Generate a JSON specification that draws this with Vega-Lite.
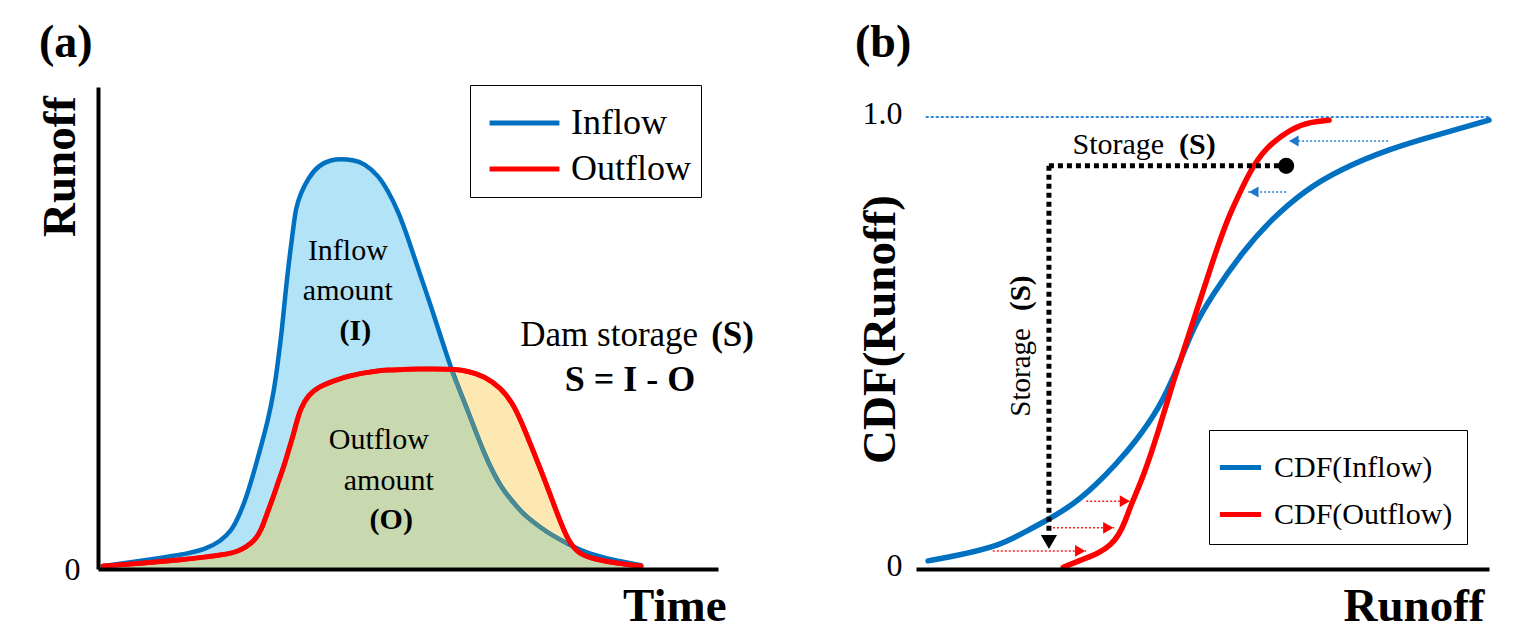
{
  "$schema": "https://vega.github.io/schema/vega-lite/v6.json",
  "background": "white",
  "padding": {"left": 35, "top": 19, "right": 5, "bottom": 5},
  "spacing": 101,
  "config": {
    "view": {"stroke": null},
    "font": "Liberation Serif",
    "axis": {"domainColor": "black", "labelColor": "black", "titleColor": "black", "grid": false, "ticks": false, "labelFont": "Liberation Serif", "titleFont": "Liberation Serif"},
    "legend": {"labelFont": "Liberation Serif", "labelColor": "black"}
  },
  "resolve": {"scale": {"color": "independent", "x": "independent", "y": "independent"}, "legend": {"color": "independent"}},
  "datasets": {
    "hydro": [
      {"t": 0.8, "Inflow": 0.6, "Outflow": 0.6},
      {"t": 6.9, "Inflow": 1.7, "Outflow": 1.2},
      {"t": 13.4, "Inflow": 2.9, "Outflow": 1.9},
      {"t": 17.4, "Inflow": 4.1, "Outflow": 2.5},
      {"t": 19.8, "Inflow": 5.8, "Outflow": 2.9},
      {"t": 21.5, "Inflow": 7.9, "Outflow": 3.3},
      {"t": 22.6, "Inflow": 10.6, "Outflow": 3.7},
      {"t": 23.9, "Inflow": 14.7, "Outflow": 4.6},
      {"t": 25.2, "Inflow": 20.3, "Outflow": 5.8},
      {"t": 26.3, "Inflow": 25.5, "Outflow": 7.9},
      {"t": 27.4, "Inflow": 30.7, "Outflow": 12.0},
      {"t": 28.4, "Inflow": 37.1, "Outflow": 15.4},
      {"t": 29.0, "Inflow": 42.7, "Outflow": 17.8},
      {"t": 29.7, "Inflow": 50.0, "Outflow": 20.3},
      {"t": 30.2, "Inflow": 56.8, "Outflow": 22.2},
      {"t": 30.8, "Inflow": 63.9, "Outflow": 24.9},
      {"t": 31.5, "Inflow": 70.7, "Outflow": 27.8},
      {"t": 31.9, "Inflow": 74.9, "Outflow": 29.9},
      {"t": 32.7, "Inflow": 78.0, "Outflow": 33.4},
      {"t": 33.9, "Inflow": 81.1, "Outflow": 36.1},
      {"t": 35.6, "Inflow": 83.8, "Outflow": 37.8},
      {"t": 37.6, "Inflow": 84.9, "Outflow": 38.8},
      {"t": 39.2, "Inflow": 85.1, "Outflow": 39.6},
      {"t": 41.1, "Inflow": 84.9, "Outflow": 40.2},
      {"t": 42.9, "Inflow": 84.2, "Outflow": 40.7},
      {"t": 45.2, "Inflow": 81.7, "Outflow": 41.1},
      {"t": 46.8, "Inflow": 78.4, "Outflow": 41.3},
      {"t": 48.4, "Inflow": 74.3, "Outflow": 41.3},
      {"t": 50.0, "Inflow": 68.7, "Outflow": 41.5},
      {"t": 51.6, "Inflow": 62.4, "Outflow": 41.5},
      {"t": 54.2, "Inflow": 52.7, "Outflow": 41.5},
      {"t": 56.9, "Inflow": 41.5, "Outflow": 41.5},
      {"t": 59.7, "Inflow": 32.8, "Outflow": 41.1},
      {"t": 62.3, "Inflow": 23.7, "Outflow": 40.0},
      {"t": 65.0, "Inflow": 16.8, "Outflow": 37.6},
      {"t": 67.1, "Inflow": 13.7, "Outflow": 34.0},
      {"t": 68.7, "Inflow": 11.2, "Outflow": 29.3},
      {"t": 71.5, "Inflow": 8.5, "Outflow": 20.3},
      {"t": 73.1, "Inflow": 7.1, "Outflow": 14.9},
      {"t": 75.8, "Inflow": 5.2, "Outflow": 5.4},
      {"t": 77.9, "Inflow": 3.9, "Outflow": 2.9},
      {"t": 80.0, "Inflow": 2.9, "Outflow": 2.1},
      {"t": 83.5, "Inflow": 1.7, "Outflow": 1.2},
      {"t": 87.6, "Inflow": 0.8, "Outflow": 0.6}
    ],
    "cdfs": [
      {"series": "CDF(Inflow)", "runoff": 0.021, "cdf": 0.018},
      {"series": "CDF(Inflow)", "runoff": 0.070, "cdf": 0.029},
      {"series": "CDF(Inflow)", "runoff": 0.145, "cdf": 0.051},
      {"series": "CDF(Inflow)", "runoff": 0.187, "cdf": 0.080},
      {"series": "CDF(Inflow)", "runoff": 0.229, "cdf": 0.108},
      {"series": "CDF(Inflow)", "runoff": 0.274, "cdf": 0.142},
      {"series": "CDF(Inflow)", "runoff": 0.314, "cdf": 0.186},
      {"series": "CDF(Inflow)", "runoff": 0.349, "cdf": 0.232},
      {"series": "CDF(Inflow)", "runoff": 0.382, "cdf": 0.280},
      {"series": "CDF(Inflow)", "runoff": 0.424, "cdf": 0.354},
      {"series": "CDF(Inflow)", "runoff": 0.457, "cdf": 0.445},
      {"series": "CDF(Inflow)", "runoff": 0.483, "cdf": 0.533},
      {"series": "CDF(Inflow)", "runoff": 0.517, "cdf": 0.606},
      {"series": "CDF(Inflow)", "runoff": 0.567, "cdf": 0.697},
      {"series": "CDF(Inflow)", "runoff": 0.620, "cdf": 0.774},
      {"series": "CDF(Inflow)", "runoff": 0.679, "cdf": 0.838},
      {"series": "CDF(Inflow)", "runoff": 0.738, "cdf": 0.883},
      {"series": "CDF(Inflow)", "runoff": 0.829, "cdf": 0.931},
      {"series": "CDF(Inflow)", "runoff": 0.908, "cdf": 0.960},
      {"series": "CDF(Inflow)", "runoff": 1.0, "cdf": 0.993},
      {"series": "CDF(Outflow)", "runoff": 0.257, "cdf": 0.004},
      {"series": "CDF(Outflow)", "runoff": 0.288, "cdf": 0.020},
      {"series": "CDF(Outflow)", "runoff": 0.319, "cdf": 0.035},
      {"series": "CDF(Outflow)", "runoff": 0.340, "cdf": 0.053},
      {"series": "CDF(Outflow)", "runoff": 0.354, "cdf": 0.075},
      {"series": "CDF(Outflow)", "runoff": 0.366, "cdf": 0.108},
      {"series": "CDF(Outflow)", "runoff": 0.375, "cdf": 0.142},
      {"series": "CDF(Outflow)", "runoff": 0.396, "cdf": 0.201},
      {"series": "CDF(Outflow)", "runoff": 0.424, "cdf": 0.308},
      {"series": "CDF(Outflow)", "runoff": 0.449, "cdf": 0.416},
      {"series": "CDF(Outflow)", "runoff": 0.483, "cdf": 0.544},
      {"series": "CDF(Outflow)", "runoff": 0.517, "cdf": 0.679},
      {"series": "CDF(Outflow)", "runoff": 0.541, "cdf": 0.765},
      {"series": "CDF(Outflow)", "runoff": 0.555, "cdf": 0.805},
      {"series": "CDF(Outflow)", "runoff": 0.583, "cdf": 0.881},
      {"series": "CDF(Outflow)", "runoff": 0.609, "cdf": 0.931},
      {"series": "CDF(Outflow)", "runoff": 0.656, "cdf": 0.976},
      {"series": "CDF(Outflow)", "runoff": 0.689, "cdf": 0.989},
      {"series": "CDF(Outflow)", "runoff": 0.721, "cdf": 0.993}
    ]
  },
  "hconcat": [
    {
      "width": 620,
      "height": 482,
      "title": {"text": "(a)", "anchor": "start", "frame": "group", "dx": -59, "offset": -18, "baseline": "alphabetic", "fontSize": 46, "fontWeight": "bold", "font": "Liberation Serif", "color": "black"},
      "encoding": {
        "x": {"field": "t", "type": "quantitative", "scale": {"domain": [0, 100], "nice": false, "zero": false},
          "axis": {"title": "Time", "labels": false, "domainWidth": 4, "titleFontSize": 47, "titleFontWeight": "bold", "titleX": 628, "titleY": 51, "titleAlign": "right", "titleBaseline": "alphabetic", "zindex": 1}}
      },
      "layer": [
        {"data": {"name": "hydro"}, "mark": {"type": "area", "interpolate": "basis", "color": "#B3E3F6"},
          "encoding": {"y": {"field": "Inflow", "type": "quantitative", "title": "Runoff", "scale": {"domain": [0, 100], "nice": false},
            "axis": {"title": "Runoff", "values": [0], "labelFontSize": 32, "labelPadding": 18, "labelFlush": false, "domainWidth": 4, "titleFontSize": 47, "titleFontWeight": "bold", "titleX": -24, "titleY": 79, "titleAngle": 270, "titleAlign": "center", "titleBaseline": "alphabetic", "zindex": 1}}}},
        {"data": {"name": "hydro"}, "mark": {"type": "area", "interpolate": "basis", "color": "#C9D9AF"},
          "encoding": {"y": {"field": "Outflow", "type": "quantitative", "title": "Runoff"}}},
        {"data": {"name": "hydro"}, "transform": [{"filter": "datum.t > 50 && datum.Outflow >= datum.Inflow"}],
          "mark": {"type": "area", "interpolate": "basis", "color": "#FDE8B2"},
          "encoding": {"y": {"field": "Outflow", "type": "quantitative", "title": "Runoff"}, "y2": {"field": "Inflow"}}},
        {"data": {"name": "hydro"}, "transform": [{"fold": ["Inflow", "Outflow"], "as": ["key", "runoff"]}],
          "mark": {"type": "line", "interpolate": "basis", "strokeWidth": 4.5, "strokeCap": "round"},
          "encoding": {"y": {"field": "runoff", "type": "quantitative", "title": "Runoff"},
            "color": {"field": "key", "type": "nominal", "scale": {"domain": ["Inflow", "Outflow"], "range": ["#0070C0", "#FF0000"]},
              "legend": {"title": null, "orient": "none", "legendX": 372, "legendY": -2, "symbolType": "M-1.37,0H1.37", "symbolSize": 2600, "symbolStrokeWidth": 5, "labelFontSize": 36, "labelOffset": 18.5, "symbolOffset": 16.5, "rowPadding": 0, "padding": 10, "strokeColor": "black", "fillColor": "white", "labelLimit": 400}}}},
        {"data": {"name": "hydro"}, "transform": [{"filter": "datum.t > 50 && datum.Outflow >= datum.Inflow"}],
          "mark": {"type": "line", "interpolate": "basis", "strokeWidth": 4, "color": "#4E8B8E"},
          "encoding": {"y": {"field": "Inflow", "type": "quantitative", "title": "Runoff"}}},
        {"data": {"name": "hydro"}, "mark": {"type": "line", "interpolate": "basis", "strokeWidth": 5, "strokeCap": "round", "color": "#FF0000"},
          "encoding": {"y": {"field": "Outflow", "type": "quantitative", "title": "Runoff"}}},
        {"data": {"values": [
            {"t": 40.3, "runoff": 66.0, "text": "Inflow"},
            {"t": 40.3, "runoff": 57.7, "text": "amount"},
            {"t": 45.3, "runoff": 26.8, "text": "Outflow"},
            {"t": 46.9, "runoff": 18.3, "text": "amount"}]},
          "mark": {"type": "text", "font": "Liberation Serif", "fontSize": 30, "color": "black", "align": "center", "baseline": "middle"},
          "encoding": {"y": {"field": "runoff", "type": "quantitative", "title": "Runoff"}, "text": {"field": "text"}}},
        {"data": {"values": [
            {"t": 41.5, "runoff": 49.4, "text": "(I)"},
            {"t": 47.3, "runoff": 10.2, "text": "(O)"}]},
          "mark": {"type": "text", "font": "Liberation Serif", "fontSize": 30, "fontWeight": "bold", "color": "black", "align": "center", "baseline": "middle"},
          "encoding": {"y": {"field": "runoff", "type": "quantitative", "title": "Runoff"}, "text": {"field": "text"}}},
        {"data": {"values": [{"t": 85.8, "runoff": 39.2, "text": "S = I - O"}]},
          "mark": {"type": "text", "font": "Liberation Serif", "fontSize": 36, "fontWeight": "bold", "color": "black", "align": "center", "baseline": "middle"},
          "encoding": {"y": {"field": "runoff", "type": "quantitative", "title": "Runoff"}, "text": {"field": "text"}}},
        {"data": {"values": [{"t": 96.8, "runoff": 48.5, "text": "Dam storage"}]},
          "mark": {"type": "text", "font": "Liberation Serif", "fontSize": 35, "color": "black", "align": "right", "baseline": "middle"},
          "encoding": {"y": {"field": "runoff", "type": "quantitative", "title": "Runoff"}, "text": {"field": "text"}}},
        {"data": {"values": [{"t": 98.9, "runoff": 48.5, "text": "(S)"}]},
          "mark": {"type": "text", "font": "Liberation Serif", "fontSize": 35, "fontWeight": "bold", "color": "black", "align": "left", "baseline": "middle"},
          "encoding": {"y": {"field": "runoff", "type": "quantitative", "title": "Runoff"}, "text": {"field": "text"}}}
      ]
    },
    {
      "width": 573,
      "height": 482,
      "title": {"text": "(b)", "anchor": "start", "frame": "group", "dx": -61, "offset": -16, "baseline": "alphabetic", "fontSize": 46, "fontWeight": "bold", "font": "Liberation Serif", "color": "black"},
      "encoding": {
        "x": {"field": "runoff", "type": "quantitative", "scale": {"domain": [0, 1], "nice": false, "zero": false},
          "axis": {"title": "Runoff", "labels": false, "domainWidth": 4, "titleFontSize": 47, "titleFontWeight": "bold", "titleX": 568, "titleY": 51, "titleAlign": "right", "titleBaseline": "alphabetic", "zindex": 1}},
        "y": {"field": "cdf", "type": "quantitative", "scale": {"domain": [0, 1.0664], "nice": false},
          "axis": {"title": "CDF(Runoff)", "values": [0, 1], "labelExpr": "datum.value == 1 ? '1.0' : '0'", "labelFontSize": 32, "labelPadding": 14, "labelFlush": false, "labelOffset": -4, "domain": false, "titleFontSize": 47, "titleFontWeight": "bold", "titleX": -22, "titleY": 242, "titleAngle": 270, "titleAlign": "center", "titleBaseline": "alphabetic", "zindex": 1}}
      },
      "layer": [
        {"data": {"values": [{"runoff": 0.017, "runoff2": 1.0, "cdf": 1.0}]},
          "mark": {"type": "rule", "color": "#2F86DA", "strokeWidth": 2, "strokeDash": [3, 2]},
          "encoding": {"x2": {"field": "runoff2"}}},
        {"data": {"name": "cdfs"},
          "mark": {"type": "line", "interpolate": "basis", "strokeWidth": 5.5, "strokeCap": "round"},
          "encoding": {"color": {"field": "series", "type": "nominal", "scale": {"domain": ["CDF(Inflow)", "CDF(Outflow)"], "range": ["#0070C0", "#FF0000"]},
            "legend": {"title": null, "orient": "none", "legendX": 293, "legendY": 343, "symbolType": "stroke", "symbolSize": 1700, "symbolStrokeWidth": 5, "labelFontSize": 30, "labelOffset": 10, "symbolOffset": -6, "rowPadding": 8, "padding": 14, "strokeColor": "black", "fillColor": "white", "labelLimit": 400}}}},
        {"data": {"values": [
            {"runoff": 0.134, "runoff2": 0.297, "cdf": 0.040},
            {"runoff": 0.239, "runoff2": 0.346, "cdf": 0.091},
            {"runoff": 0.297, "runoff2": 0.375, "cdf": 0.150}]},
          "layer": [
            {"mark": {"type": "rule", "color": "#FF2020", "strokeWidth": 1.5, "strokeDash": [2, 2]},
              "encoding": {"x2": {"field": "runoff2"}}},
            {"mark": {"type": "point", "shape": "triangle-right", "filled": true, "color": "#FF0000", "opacity": 1, "size": 140, "xOffset": -6},
              "encoding": {"x": {"field": "runoff2", "type": "quantitative"}}}
          ]},
        {"data": {"values": [
            {"runoff": 0.824, "runoff2": 0.649, "cdf": 0.947},
            {"runoff": 0.646, "runoff2": 0.579, "cdf": 0.834}]},
          "layer": [
            {"mark": {"type": "rule", "color": "#2A7FD0", "strokeWidth": 1.5, "strokeDash": [2, 2]},
              "encoding": {"x2": {"field": "runoff2"}}},
            {"mark": {"type": "point", "shape": "triangle-left", "filled": true, "color": "#1F77C8", "opacity": 1, "size": 120, "xOffset": 6},
              "encoding": {"x": {"field": "runoff2", "type": "quantitative"}}}
          ]},
        {"data": {"values": [
            {"runoff": 0.232, "runoff2": 0.646, "cdf": 0.892, "cdf2": 0.892},
            {"runoff": 0.232, "runoff2": 0.232, "cdf": 0.892, "cdf2": 0.08}]},
          "mark": {"type": "rule", "color": "black", "strokeWidth": 5, "strokeDash": [5, 4]},
          "encoding": {"x2": {"field": "runoff2"}, "y2": {"field": "cdf2"}}},
        {"data": {"values": [{"runoff": 0.232, "cdf": 0.042}]},
          "mark": {"type": "point", "shape": "triangle-down", "filled": true, "color": "black", "opacity": 1, "size": 260, "yOffset": -8}},
        {"data": {"values": [{"runoff": 0.646, "cdf": 0.892}]},
          "mark": {"type": "point", "shape": "circle", "filled": true, "color": "black", "opacity": 1, "size": 260}},
        {"data": {"values": [{"runoff": 0.433, "cdf": 0.938, "text": "Storage"}]},
          "mark": {"type": "text", "font": "Liberation Serif", "fontSize": 30, "color": "black", "align": "right", "baseline": "middle"},
          "encoding": {"text": {"field": "text"}}},
        {"data": {"values": [{"runoff": 0.459, "cdf": 0.938, "text": "(S)"}]},
          "mark": {"type": "text", "font": "Liberation Serif", "fontSize": 30, "fontWeight": "bold", "color": "black", "align": "left", "baseline": "middle"},
          "encoding": {"text": {"field": "text"}}},
        {"data": {"values": [{"runoff": 0.183, "cdf": 0.533, "text": "Storage"}]},
          "mark": {"type": "text", "font": "Liberation Serif", "fontSize": 29, "color": "black", "align": "right", "baseline": "middle", "angle": 270},
          "encoding": {"text": {"field": "text"}}},
        {"data": {"values": [{"runoff": 0.183, "cdf": 0.571, "text": "(S)"}]},
          "mark": {"type": "text", "font": "Liberation Serif", "fontSize": 29, "fontWeight": "bold", "color": "black", "align": "left", "baseline": "middle", "angle": 270},
          "encoding": {"text": {"field": "text"}}},
        {"data": {"values": [{}]},
          "mark": {"type": "rule", "color": "black", "strokeWidth": 4, "strokeCap": "square"},
          "encoding": {"x": {"datum": 0}, "y": {"datum": 0}, "y2": {"datum": 0.993}}}
      ]
    }
  ]
}
